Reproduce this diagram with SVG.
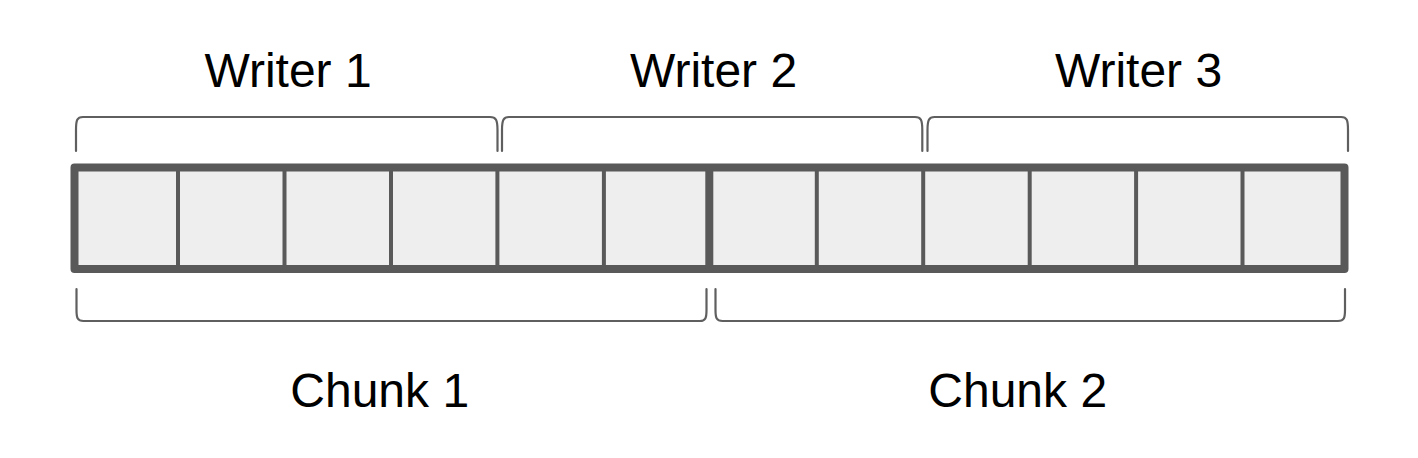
<svg xmlns="http://www.w3.org/2000/svg" width="1418" height="458" viewBox="0 0 1418 458">
<style>
.lbl{font-family:"Liberation Sans",Arial,sans-serif;font-size:48px;fill:#000}
.br{fill:none;stroke:#5f5f5f;stroke-width:2.2;stroke-linecap:round;stroke-linejoin:round}
.div{stroke:#595959;stroke-width:4}
.thick{stroke:#595959;stroke-width:8}
</style>
<rect width="1418" height="458" fill="#ffffff"/>
<g id="array">
<rect x="74.5" y="167.5" width="1270" height="101.5" fill="#eeeeee" stroke="#595959" stroke-width="8" stroke-linejoin="round"/>
<line class="div" x1="178" y1="168" x2="178" y2="269"/>
<line class="div" x1="284.5" y1="168" x2="284.5" y2="269"/>
<line class="div" x1="391" y1="168" x2="391" y2="269"/>
<line class="div" x1="497.4" y1="168" x2="497.4" y2="269"/>
<line class="div" x1="603.9" y1="168" x2="603.9" y2="269"/>
<line class="thick" x1="709.3" y1="168" x2="709.3" y2="269"/>
<line class="div" x1="816.8" y1="168" x2="816.8" y2="269"/>
<line class="div" x1="923.2" y1="168" x2="923.2" y2="269"/>
<line class="div" x1="1029.7" y1="168" x2="1029.7" y2="269"/>
<line class="div" x1="1136.1" y1="168" x2="1136.1" y2="269"/>
<line class="div" x1="1242.5" y1="168" x2="1242.5" y2="269"/>
</g>
<g id="writer1">
<path class="br" d="M76,151 L76,130 C76,120 77,117 83,117 L490,117 C496,117 497.5,120 497.5,130 L497.5,151"/>
<text class="lbl" x="204.5" y="87">Writer 1</text>
</g>
<g id="writer2">
<path class="br" d="M502,151 L502,130 C502,120 503.5,117 509,117 L915,117 C921,117 922.3,120 922.3,130 L922.3,151"/>
<text class="lbl" x="630" y="87">Writer 2</text>
</g>
<g id="writer3">
<path class="br" d="M927.5,151 L927.5,130 C927.5,120 929,117 934.5,117 L1341,117 C1347,117 1348,120 1348,130 L1348,151"/>
<text class="lbl" x="1055" y="87">Writer 3</text>
</g>
<g id="chunk1">
<path class="br" d="M76.5,289 L76.5,310 C76.5,318 77.5,321 83.5,321 L700,321 C705.5,321 706.5,318 706.5,310 L706.5,289"/>
<text class="lbl" x="290.3" y="407">Chunk 1</text>
</g>
<g id="chunk2">
<path class="br" d="M715.5,289 L715.5,310 C715.5,318 716.5,321 722.5,321 L1338,321 C1344,321 1345,318 1345,310 L1345,289"/>
<text class="lbl" x="928.3" y="407">Chunk 2</text>
</g>
<g id="connectors"></g>
</svg>
